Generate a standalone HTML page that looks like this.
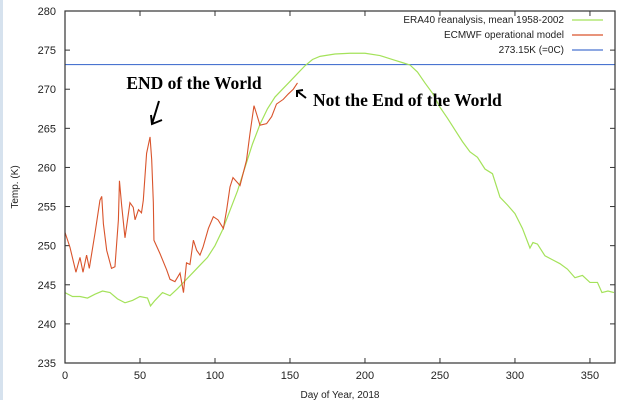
<!DOCTYPE html>
<html><head><meta charset="utf-8"><style>
html,body{margin:0;padding:0;background:#fff;}
svg{display:block;font-family:"Liberation Sans",sans-serif;}
</style></head><body>
<svg id="chart" width="625" height="400" viewBox="0 0 625 400" xmlns="http://www.w3.org/2000/svg">
<rect x="0" y="0" width="3" height="400" fill="#d6e2ee"/>
<g id="grid"></g>
<g id="series"></g>
<rect x="65" y="11" width="550" height="352" fill="none" stroke="#333" stroke-width="1.2"/>
<text x="18" y="187" transform="rotate(-90 18 187)" text-anchor="middle" font-size="10" fill="#222">Temp. (K)</text>
<text x="340" y="398" text-anchor="middle" font-size="10" fill="#222">Day of Year, 2018</text>
<g font-size="10" fill="#222">
<text x="564" y="23" text-anchor="end">ERA40 reanalysis, mean 1958-2002</text>
<line x1="572" y1="20" x2="603" y2="20" stroke="#a4e25a" stroke-width="1.2"/>
<text x="564" y="38" text-anchor="end">ECMWF operational model</text>
<line x1="572" y1="35" x2="603" y2="35" stroke="#d9542c" stroke-width="1.2"/>
<text x="564" y="53" text-anchor="end">273.15K (=0C)</text>
<line x1="572" y1="50" x2="603" y2="50" stroke="#4a74d0" stroke-width="1.2"/>
</g>
<text x="194" y="89" text-anchor="middle" font-family="'Liberation Serif',serif" font-weight="bold" font-size="17.5" fill="#000">END of the World</text>
<g stroke="#000" stroke-width="2" fill="none"><line x1="159" y1="101" x2="152" y2="124"/><polyline points="151,115 152,124 162,120"/></g>
<text x="313" y="106" font-family="'Liberation Serif',serif" font-weight="bold" font-size="17.5" fill="#000">Not the End of the World</text>
<g stroke="#000" stroke-width="2" fill="none"><line x1="306" y1="98" x2="297" y2="91"/><polyline points="297,97 297,91 303,90"/></g>
</svg>
<script>
const xTicks=[0,50,100,150,200,250,300,350];
const yTicks=[235,240,245,250,255,260,265,270,275,280];
const freezing=273.15;
const eraDays=[0,5,10,15,20,25,30,35,40,45,50,55,57,60,65,70,75,80,85,90,95,100,105,110,115,120,125,130,135,140,145,150,155,160,165,170,180,190,200,210,220,225,230,235,240,245,250,255,260,265,270,275,280,285,290,295,300,305,310,312,315,320,325,330,335,340,345,350,355,358,362,366];
const eraTemps=[244,243.5,243.5,243.3,243.8,244.2,244,243.2,242.7,243,243.5,243.3,242.3,243,244,243.6,244.5,245.5,246.5,247.5,248.5,250,252,254.5,257,260,263,265.5,267.5,269,270,271,272,273,273.8,274.2,274.5,274.6,274.6,274.3,273.7,273.4,273.1,272.2,270.8,269.5,267.7,266.3,264.8,263.3,262,261.3,259.8,259.2,256.2,255.2,254.1,252.2,249.7,250.4,250.2,248.7,248.2,247.7,247,245.9,246.2,245.3,245.3,244,244.2,244];
const ecDays=[0,3.3,7.3,10,12,14.4,16.2,20,23.3,24.5,25.6,27.8,31,33.3,35.6,36.3,37.8,40,43.3,45.5,46.7,49,51,52.2,54.4,56.7,57.8,58.9,59.3,63.3,67.8,70,73.3,76.7,79,81,83.3,85.6,87.8,90,92,95.6,98.9,102,105.6,107.8,110,112,116.7,121,123.3,126,127.8,130,134.4,137.8,141,145.5,148.9,152.2,155];
const ecTemps=[251.7,249.8,246.6,248.5,246.6,248.8,247.1,251.6,255.8,256.3,252.8,249.4,247.1,247.3,253.3,258.3,255.1,251,255.5,254.9,253.3,254.6,254.2,255.8,261.8,263.9,261,255.5,250.7,249,246.9,245.7,245.4,246.5,244,247.8,247.6,250.7,249.4,248.8,249.8,252.2,253.7,253.3,252.2,254.6,257.5,258.7,257.7,260.9,264.3,267.9,266.8,265.4,265.6,266.5,268.1,268.7,269.4,270,270.8];
const X0=65,X1=615,Y0=363,Y1=11,DMAX=366.7,TMIN=235,TMAX=280;
function sx(d){return X0+(d/DMAX)*(X1-X0);}
function sy(t){return Y0-(t-TMIN)/(TMAX-TMIN)*(Y0-Y1);}
const NS="http://www.w3.org/2000/svg";
const grid=document.getElementById('grid'),ser=document.getElementById('series');
function mk(tag,attrs,parent){const e=document.createElementNS(NS,tag);for(const k in attrs)e.setAttribute(k,attrs[k]);parent.appendChild(e);return e;}
xTicks.forEach(v=>{const x=sx(v);
 const a=mk('line',{x1:x,y1:Y0,x2:x,y2:Y0-5,stroke:'#333'},grid);
 
 
 const b=mk('line',{x1:x,y1:Y1,x2:x,y2:Y1+5,stroke:'#333'},grid);
 
 
 const t=mk('text',{x:x,y:Y0+16,'text-anchor':'middle','font-size':'11',fill:'#222'},grid);t.textContent=v;
 
 
});
yTicks.forEach(v=>{const y=sy(v);
 const a=mk('line',{x1:X0,y1:y,x2:X0+5,y2:y,stroke:'#333'},grid);
 
 
 const b=mk('line',{x1:X1,y1:y,x2:X1-5,y2:y,stroke:'#333'},grid);
 
 
 const t=mk('text',{x:X0-9,y:y+4,'text-anchor':'end','font-size':'11',fill:'#222'},grid);t.textContent=v;
 
 
});
const fz=mk('line',{x1:X0,y1:sy(freezing),x2:X1,y2:sy(freezing),stroke:'#4a74d0','stroke-width':1.2},ser);


const era=mk('polyline',{points:eraDays.map((d,i)=>sx(d)+','+sy(eraTemps[i])).join(' '),fill:'none',stroke:'#a4e25a','stroke-width':1.2},ser);


const ec=mk('polyline',{points:ecDays.map((d,i)=>sx(d)+','+sy(ecTemps[i])).join(' '),fill:'none',stroke:'#d9542c','stroke-width':1.1},ser);


</script>
</body></html>
